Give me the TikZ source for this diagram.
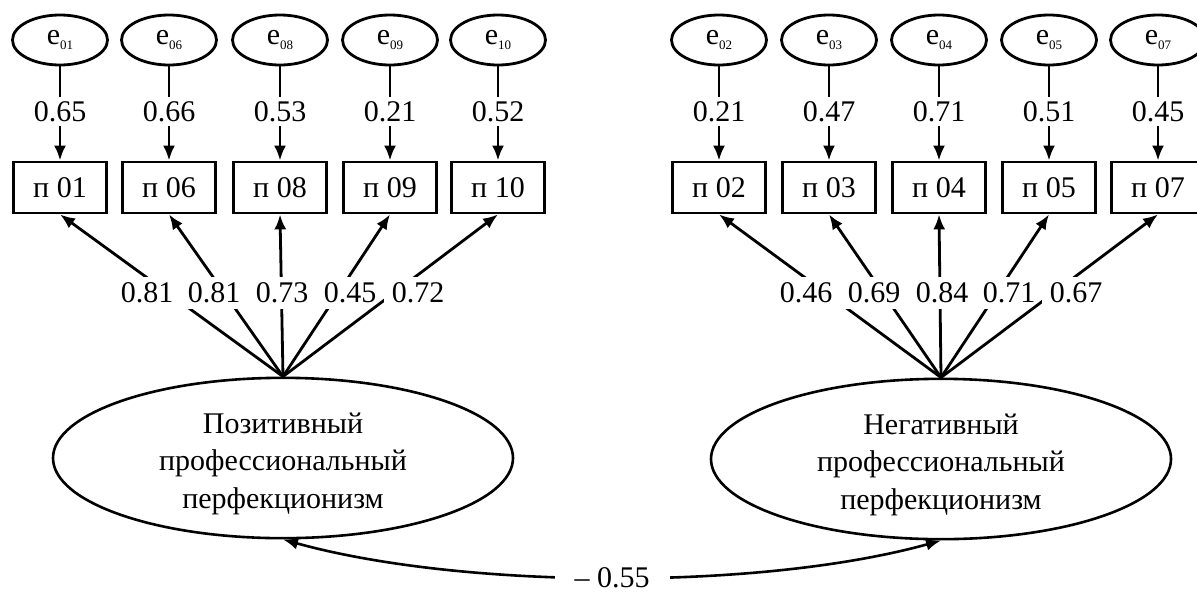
\documentclass[tikz,border=0pt]{standalone}
\usepackage{fontspec}
\setmainfont{Liberation Serif}
\usetikzlibrary{arrows.meta,shapes.geometric}
\newcommand\esub[1]{e\raisebox{-0.3ex}{\fontsize{6.5}{7}\selectfont #1}}
\begin{document}
\begin{tikzpicture}[x=0.5pt,y=-0.5pt,
  font=\fontsize{15}{18.75}\selectfont,
  err/.style={ellipse, draw, line width=1.4pt, minimum width=47.5pt, minimum height=25pt, inner sep=0pt},
  obs/.style={rectangle, draw, line width=1.4pt, minimum width=46.5pt, minimum height=25.5pt, inner sep=0pt},
  lat/.style={ellipse, draw, line width=1.3pt, minimum width=230pt, minimum height=80pt, align=center, inner sep=0pt},
  elab/.style={fill=white, inner xsep=1pt, inner ysep=2pt},
  llab/.style={fill=white, minimum width=34pt, inner xsep=0pt, inner ysep=3pt},
  arr/.style={line width=1.4pt, -{Latex[length=7.5pt,width=6pt]}},
  cov/.style={line width=1.3pt, {Latex[length=7.5pt,width=6pt]}-{Latex[length=7.5pt,width=6pt]}}]
\useasboundingbox (0,0) rectangle (1197,594);

\node[lat] (PL) at (283,458) {\rule{0pt}{16pt}Позитивный\\профессиональный\\перфекционизм};
\node[lat] (PR) at (941,459) {\rule{0pt}{16pt}Негативный\\профессиональный\\перфекционизм};

% left group
\foreach \x/\id/\ev/\lv/\lx in {60/01/0.65/0.81/147, 169/06/0.66/0.81/214, 280/08/0.53/0.73/282, 390/09/0.21/0.45/350, 498/10/0.52/0.72/418}{
  \node[err] (e\id) at (\x,40) {\esub{\id}};
  \node[obs] (b\id) at (\x,187.5) {п \id};
  \draw[arr] (e\id.south) -- (b\id.north) node[elab, pos=0.48] (w\id) {\ev};
  \draw[arr] (PL.north) -- (b\id.south);
  \node[llab] (l\id) at (\lx,293) {\lv};
}
% right group
\foreach \x/\id/\ev/\lv/\lx in {719/02/0.21/0.46/806, 829/03/0.47/0.69/874, 939/04/0.71/0.84/942, 1049/05/0.51/0.71/1009, 1158/07/0.45/0.67/1076}{
  \node[err] (e\id) at (\x,40) {\esub{\id}};
  \node[obs] (b\id) at (\x,187.5) {п \id};
  \draw[arr] (e\id.south) -- (b\id.north) node[elab, pos=0.48] (w\id) {\ev};
  \draw[arr] (PR.north) -- (b\id.south);
  \node[llab] (l\id) at (\lx,293) {\lv};
}

\draw[cov] (PL.south) .. controls +(180,50) and +(-180,50) .. (PR.south)
  node[pos=0.5, fill=white, inner xsep=10pt, inner ysep=0pt] (cv) {– 0.55};
\end{tikzpicture}
\end{document}
